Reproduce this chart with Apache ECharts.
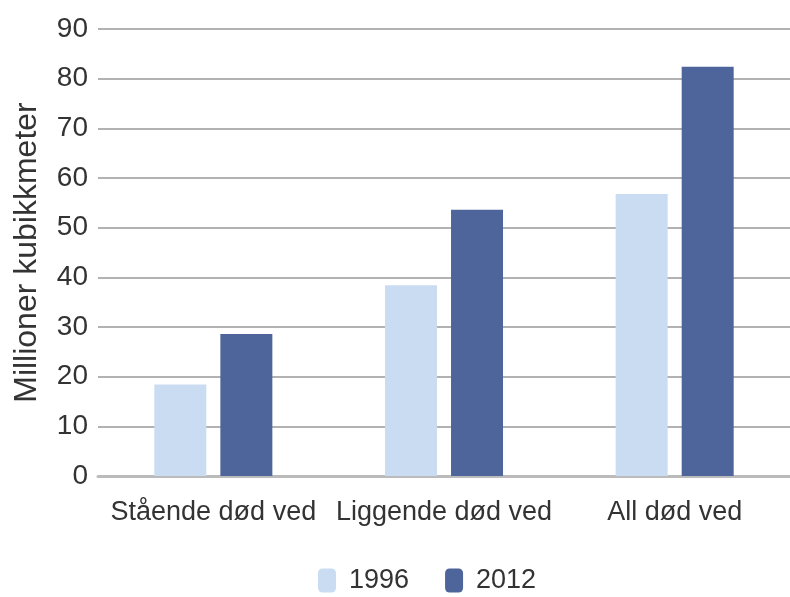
<!DOCTYPE html>
<html>
<head>
<meta charset="utf-8">
<script src="https://cdn.jsdelivr.net/npm/echarts@6/dist/echarts.min.js"></script>
<style>
  html, body { margin: 0; padding: 0; background: #fff; }
  #chart { width: 790px; height: 597px; }
</style>
</head>
<body>
<div id="chart"></div>
<script>
// kategorier og verdier (millioner kubikkmeter)
const categories = ["Stående død ved", "Liggende død ved", "All død ved"];
const values1996 = [18.4, 38.4, 56.8];
const values2012 = [28.6, 53.6, 82.4];
const seriesNames = ["1996", "2012"];

const fontFamily = "'Liberation Sans', sans-serif";

const chart = echarts.init(document.getElementById("chart"));
chart.setOption({
  animation: false,
  textStyle: { fontFamily },
  grid: { left: 98, right: 0, top: 29, bottom: 121 },
  legend: {
    data: seriesNames,
    top: 562,
    left: 313,
    itemWidth: 18,
    itemHeight: 24,
    itemGap: 36,
    textStyle: { fontSize: 27, color: "#333", padding: [0, 0, 0, 8] },
  },
  xAxis: {
    type: "category",
    data: categories,
    axisTick: { show: false },
    axisLine: { lineStyle: { color: "#bbb", width: 3 } },
    axisLabel: { fontSize: 27, color: "#333", margin: 23, interval: 0 },
  },
  yAxis: {
    type: "value",
    min: 0,
    max: 90,
    interval: 10,
    name: "Millioner kubikkmeter",
    nameLocation: "middle",
    nameGap: 55,
    nameTextStyle: { fontSize: 32, color: "#333" },
    axisLabel: { fontSize: 28, color: "#333", margin: 10 },
    splitLine: { lineStyle: { color: "#999", width: 1.5 } },
  },
  series: [
    {
      name: seriesNames[0],
      type: "bar",
      data: values1996,
      barWidth: 52,
      barGap: "27%",
      itemStyle: { color: "#cadcf2" },
    },
    {
      name: seriesNames[1],
      type: "bar",
      data: values2012,
      barWidth: 52,
      itemStyle: { color: "#4e659b" },
    },
  ],
});
</script>
</body>
</html>
